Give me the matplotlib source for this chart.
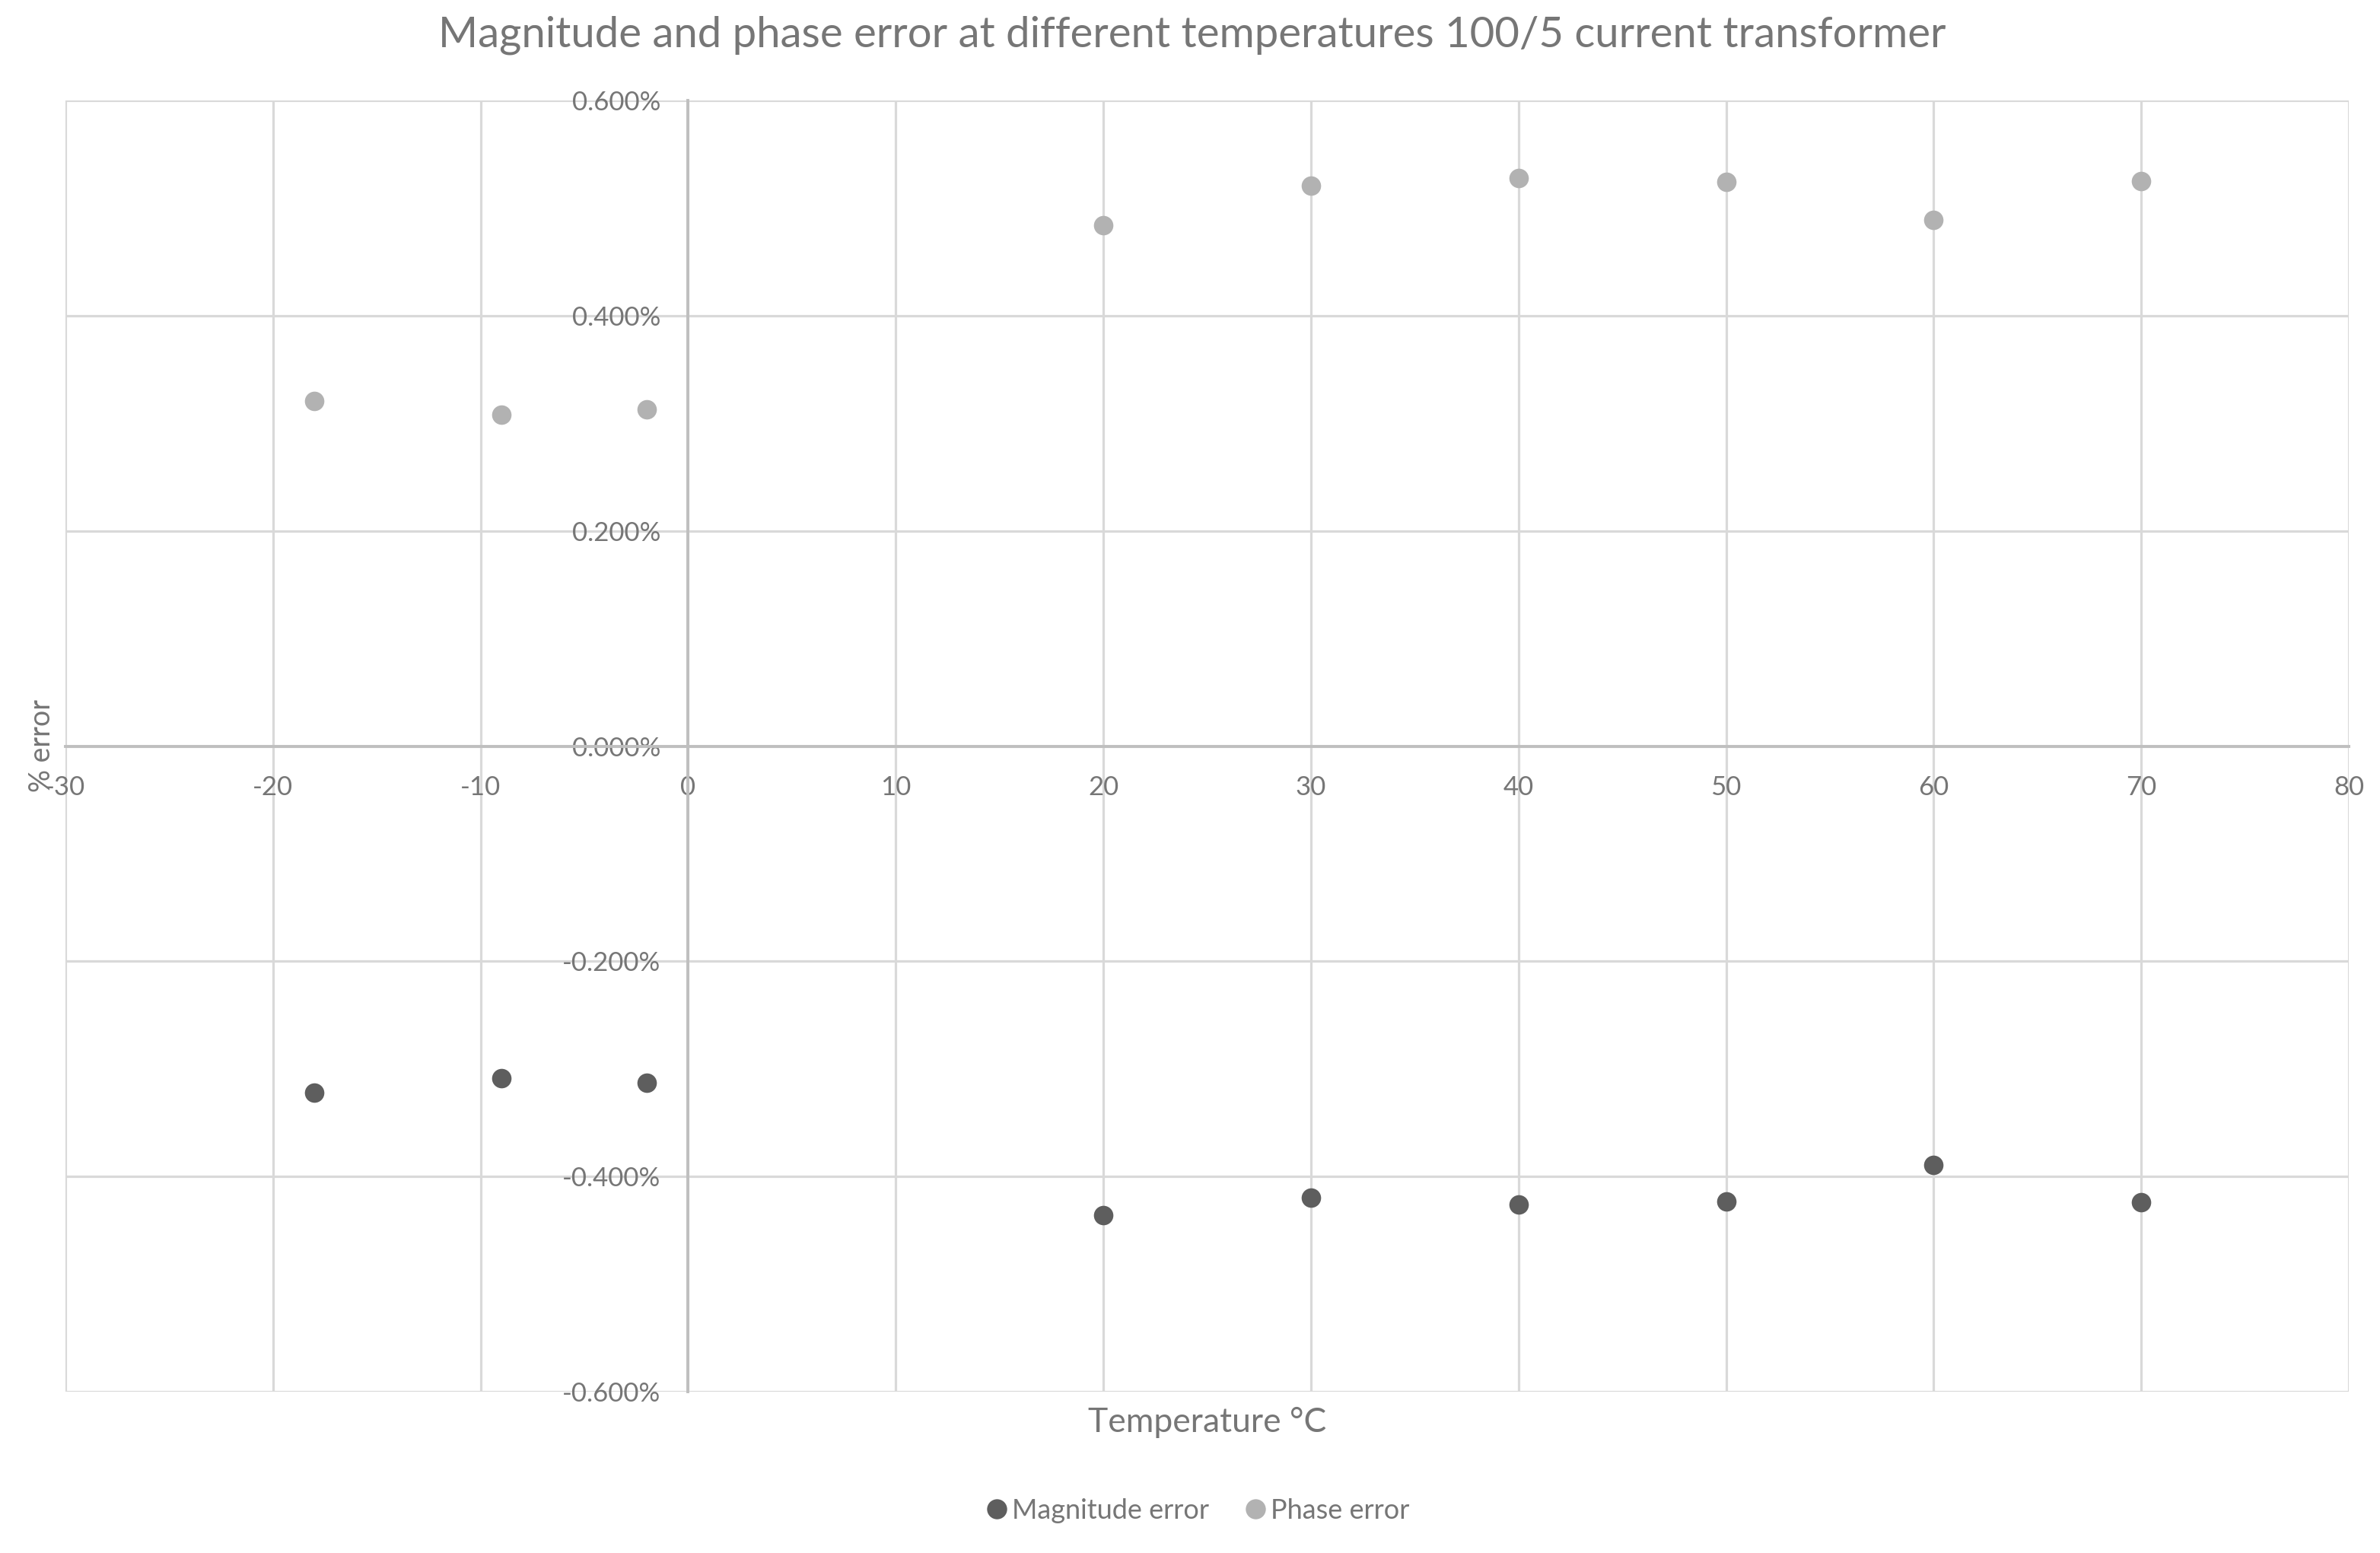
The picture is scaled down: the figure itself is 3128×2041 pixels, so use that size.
import matplotlib
matplotlib.use("Agg")
import matplotlib.pyplot as plt
from matplotlib.ticker import FuncFormatter, MultipleLocator
from matplotlib.lines import Line2D

plt.rcParams['font.family'] = ['Lato', 'DejaVu Sans']

title = "Magnitude and phase error at different temperatures 100/5 current transformer"
temperature = [-18, -9, -2, 20, 30, 40, 50, 60, 70]
magnitude_error = [-0.322, -0.309, -0.313, -0.436, -0.420, -0.426, -0.423, -0.389, -0.424]
phase_error = [0.321, 0.308, 0.313, 0.484, 0.521, 0.528, 0.524, 0.489, 0.525]
series_names = ["Magnitude error", "Phase error"]

TXT = "#767676"
GRID = "#d9d9d9"
AXIS = "#bfbfbf"
C_MAG = "#5e5e5e"
C_PH = "#b2b2b2"

fig = plt.figure(figsize=(31.28, 20.41), dpi=100)
ax = fig.add_axes([86/3128, 1-1829/2041, (3087-86)/3128, (1829-132)/2041])

ax.scatter(temperature, magnitude_error, s=340, color=C_MAG, zorder=3, linewidths=0)
ax.scatter(temperature, phase_error, s=340, color=C_PH, zorder=3, linewidths=0)

ax.set_xlim(-30, 80)
ax.set_ylim(-0.6, 0.6)
ax.xaxis.set_major_locator(MultipleLocator(10))
ax.yaxis.set_major_locator(MultipleLocator(0.2))
ax.yaxis.set_major_formatter(FuncFormatter(lambda v, p: f"{v:.3f}%" if abs(v) > 1e-9 else "0.000%"))
ax.xaxis.set_major_formatter(FuncFormatter(lambda v, p: f"{v:.0f}"))

ax.grid(True, color=GRID, linewidth=2.3, zorder=0)
ax.set_axisbelow(True)
for s in ['top', 'right']:
    ax.spines[s].set_visible(False)
ax.spines['left'].set_position(('data', 0))
ax.spines['bottom'].set_position(('data', 0))
for s in ['left', 'bottom']:
    ax.spines[s].set_color(AXIS)
    ax.spines[s].set_linewidth(2.8)
    ax.spines[s].set_zorder(1)

ax.tick_params(axis='both', length=0, labelsize=25, labelcolor=TXT)
ax.tick_params(axis='y', pad=26)
ax.tick_params(axis='x', pad=28)

fig.text(1567/3128, 1-62/2041, title, ha='center', va='baseline', fontsize=40.5, color=TXT)
fig.text(1587/3128, 1-1882/2041, "Temperature °C", ha='center', va='baseline', fontsize=32, color=TXT)
fig.text(55/3128, 1-980/2041, "% error", ha='center', va='center', rotation=90, fontsize=27, color=TXT)

handles = [Line2D([], [], marker='o', linestyle='none', markersize=19, color=C_MAG, markeredgewidth=0),
           Line2D([], [], marker='o', linestyle='none', markersize=19, color=C_PH, markeredgewidth=0)]
leg = fig.legend(handles, series_names, loc='center', bbox_to_anchor=(1572/3128, 1-1985/2041), ncol=2,
                 frameon=False, fontsize=26, handletextpad=0.05, columnspacing=1.2, handlelength=1.0)
for t in leg.get_texts():
    t.set_color(TXT)

fig.savefig("out.png", dpi=100)
